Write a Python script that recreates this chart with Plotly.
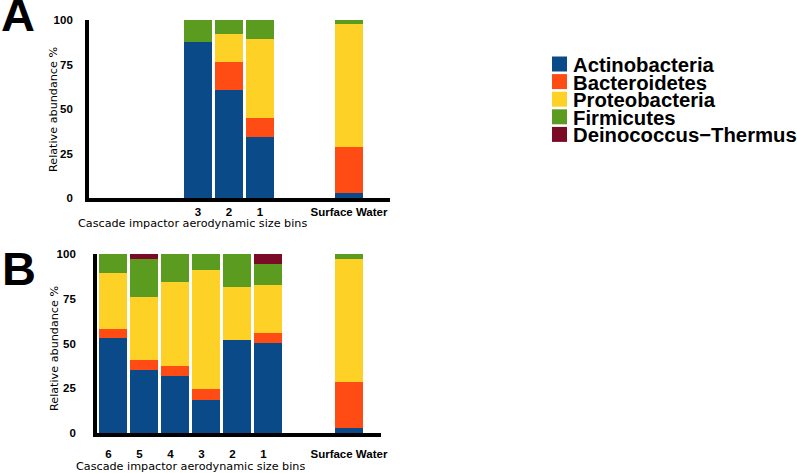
import plotly.graph_objects as go

# ---------------- data ----------------
phyla = ["Actinobacteria", "Bacteroidetes", "Proteobacteria", "Firmicutes", "Deinococcus−Thermus"]
colors = ["#0b4a88", "#ff4b14", "#fdd125", "#5b9b1f", "#7b0a27"]

bins_a = ["3", "2", "1", "Surface Water"]
actino_a = [87.4, 60.6, 34.1, 3.0]
bactero_a = [0.0, 15.8, 10.6, 25.7]
proteo_a = [0.0, 15.7, 44.6, 69.0]
firmi_a = [12.6, 7.9, 10.7, 2.3]
deino_a = [0.0, 0.0, 0.0, 0.0]

bins_b = ["6", "5", "4", "3", "2", "1", "Surface Water"]
actino_b = [53.0, 35.4, 31.7, 18.5, 52.1, 50.2, 3.0]
bactero_b = [5.0, 5.3, 6.0, 5.9, 0.0, 5.8, 25.5]
proteo_b = [31.6, 35.2, 46.8, 66.6, 29.4, 26.5, 68.9]
firmi_b = [10.4, 21.5, 15.5, 9.0, 18.5, 11.9, 2.6]
deino_b = [0.0, 2.6, 0.0, 0.0, 0.0, 5.6, 0.0]

y_ticks = [0, 25, 50, 75, 100]
x_title = "Cascade impactor aerodynamic size bins"
y_title = "Relative abundance %"

# ---------------- layout helpers ----------------
W, H = 797, 473
FONT = "Liberation Sans, Arial, sans-serif"
TITLE_FONT = "DejaVu Sans, sans-serif"
slot_a = [3, 4, 5, 7.87]
slot_b = [0, 1, 2, 3, 4, 5, 7.61]
label_shift_b = -0.15   # numeric tick labels in panel B sit slightly left of bar centres
BAR_W = 0.9
SW = "Surface Water"


def px(x):
    return x / W


def py(y):
    return 1 - y / H


def tick_label(lbl):
    return f"<b>{lbl}</b>"


fig = go.Figure()

series_a = [actino_a, bactero_a, proteo_a, firmi_a, deino_a]
series_b = [actino_b, bactero_b, proteo_b, firmi_b, deino_b]

for name, col, va in zip(phyla, colors, series_a):
    fig.add_trace(go.Bar(x=slot_a, y=va, name=name, marker=dict(color=col, line=dict(width=0)),
                         width=BAR_W, xaxis="x", yaxis="y", showlegend=False))
for name, col, vb in zip(phyla, colors, series_b):
    fig.add_trace(go.Bar(x=slot_b, y=vb, name=name, marker=dict(color=col, line=dict(width=0)),
                         width=BAR_W, xaxis="x2", yaxis="y2", showlegend=False))

axis_common = dict(showline=True, linecolor="black", linewidth=3.8, showgrid=False,
                   zeroline=False, automargin=False,
                   tickfont=dict(family=FONT, size=11.5, color="black"))

tickvals_b = [s if b == SW else s + label_shift_b for s, b in zip(slot_b, bins_b)]

fig.update_layout(
    width=W, height=H,
    margin=dict(l=0, r=0, t=0, b=0, autoexpand=False),
    paper_bgcolor="white", plot_bgcolor="white",
    barmode="stack", bargap=0,
    font=dict(family=FONT, color="black"),
    xaxis=dict(domain=[px(89), px(390)], range=[-0.516, 9.194], anchor="y",
               tickmode="array", tickvals=slot_a, ticktext=[tick_label(b) for b in bins_a],
               ticks="", **axis_common),
    yaxis=dict(domain=[py(198), py(20)], range=[0, 100], anchor="x",
               tickmode="array", tickvals=y_ticks, ticktext=[f"<b>{t}</b>" for t in y_ticks],
               ticks="outside", ticklen=10, tickcolor="rgba(0,0,0,0)", **axis_common),
    xaxis2=dict(domain=[px(97), px(381)], range=[-0.516, 8.645], anchor="y2",
                tickmode="array", tickvals=tickvals_b, ticktext=[tick_label(b) for b in bins_b],
                ticks="outside", ticklen=7, tickcolor="rgba(0,0,0,0)", **axis_common),
    yaxis2=dict(domain=[py(433), py(254)], range=[0, 100], anchor="x2",
                tickmode="array", tickvals=y_ticks, ticktext=[f"<b>{t}</b>" for t in y_ticks],
                ticks="outside", ticklen=15, tickcolor="rgba(0,0,0,0)", **axis_common),
)

annotations = []


def add_text(text, cx, cy, size, angle=0, xanchor="center", family=FONT):
    annotations.append(dict(text=text, x=px(cx), y=py(cy), xref="paper", yref="paper",
                            xanchor=xanchor, yanchor="middle", textangle=angle,
                            showarrow=False, font=dict(family=family, size=size, color="black")))


# panel letters
add_text("<b>A</b>", 18, 14.5, 47)
add_text("<b>B</b>", 19, 268.5, 47)
# axis titles
for cx, cy in [(192, 223), (190, 466)]:
    add_text(x_title, cx, cy, 11.2, family=TITLE_FONT)
for cx, cy in [(54, 110), (54, 349)]:
    add_text(y_title, cx, cy, 11.2, angle=-90, family=TITLE_FONT)

# legend
shapes = []
for i, (name, col) in enumerate(zip(phyla, colors)):
    cy = 64 + 17.6 * i
    shapes.append(dict(type="rect", xref="paper", yref="paper",
                       x0=px(552), x1=px(567), y0=py(cy + 7.5), y1=py(cy - 7.5),
                       fillcolor=col, line=dict(width=0)))
    add_text(f"<b>{name}</b>", 571, cy + 1, 20.3, xanchor="left")

fig.update_layout(annotations=annotations, shapes=shapes)
fig.write_html("out.html", config={"displayModeBar": False},
               post_script="document.body.style.margin='0';")
